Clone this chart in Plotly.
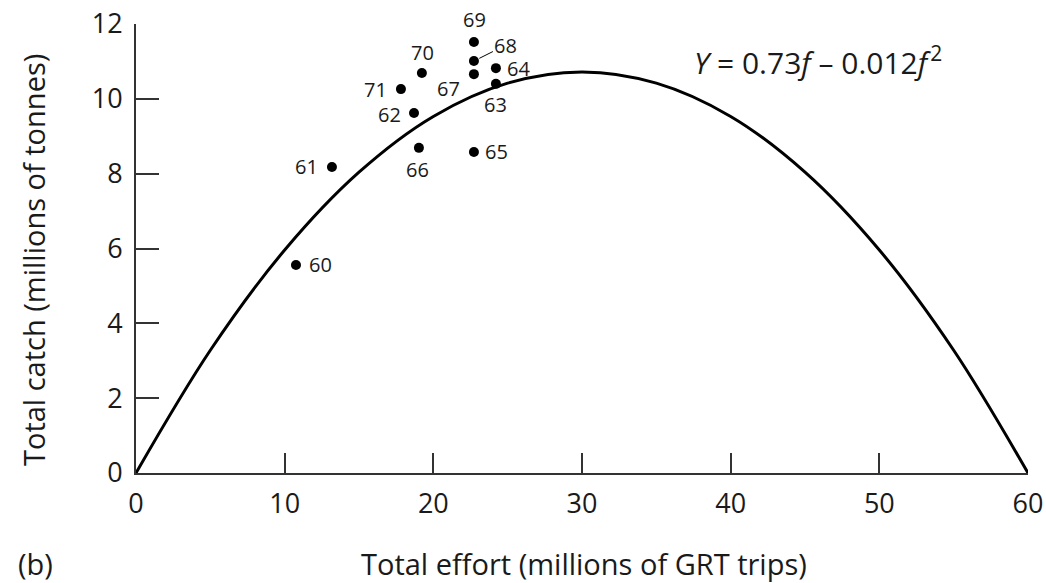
import plotly.graph_objects as go

# Observed data (year labels, effort, catch)
years = ["60", "61", "62", "63", "64", "65", "66", "67", "68", "69", "70", "71"]
effort = [10.76, 13.18, 18.70, 24.21, 24.21, 22.73, 19.03, 22.73, 22.73, 22.73, 19.23, 17.82]
catch = [5.56, 8.18, 9.62, 10.40, 10.82, 8.58, 8.69, 10.66, 11.01, 11.52, 10.69, 10.26]

# Fitted curve
curve_f = [0, 5, 10, 15, 20, 25, 30, 35, 40, 45, 50, 55, 60]
curve_y = [0, 3.28, 5.96, 8.04, 9.53, 10.42, 10.72, 10.42, 9.53, 8.04, 5.96, 3.28, 0]

x_ticks = [0, 10, 20, 30, 40, 50, 60]
y_ticks = [0, 2, 4, 6, 8, 10, 12]

FONT = "Open Sans"
TXT = "#1a1a1a"

W, H = 1046, 583
L, T = 136, 24
R = W - 1028
B = H - 473
PW, PH = W - L - R, H - T - B


def px(xv):
    return (xv - L) / PW


def py(yv):
    return (H - B - yv) / PH


# label offsets (pixels) per year: (xshift, yshift)
label_pos = {
    "60": (25, 0), "61": (-25, 0), "62": (-25, -1), "71": (-25, 0),
    "70": (1, 21), "66": (-1, -22), "69": (1, 22), "67": (-25, -14),
    "64": (23, 0), "63": (0, -21), "65": (23, 0),
}

fig = go.Figure()
fig.add_trace(go.Scatter(x=curve_f, y=curve_y, mode="lines",
                         line=dict(color="black", width=3, shape="spline"),
                         hoverinfo="skip", cliponaxis=False))
fig.add_trace(go.Scatter(x=effort, y=catch, mode="markers",
                         marker=dict(color="black", size=10)))

anns = []
for yr, xv, yv in zip(years, effort, catch):
    if yr == "68":
        anns.append(dict(x=xv, y=yv, xref="x", yref="y", text=yr, showarrow=True,
                         arrowhead=0, arrowwidth=1, arrowcolor="black", ax=32, ay=-16,
                         standoff=6, xanchor="center", yanchor="middle",
                         font=dict(family=FONT, size=20, color=TXT)))
        continue
    dx, dy = label_pos[yr]
    anns.append(dict(x=xv, y=yv, xref="x", yref="y", text=yr, showarrow=False,
                     xshift=dx, yshift=dy, xanchor="center", yanchor="middle",
                     font=dict(family=FONT, size=20, color=TXT)))

anns.append(dict(xref="paper", yref="paper", x=px(818), y=py(61),
                 text="<i>Y</i> = 0.73<i>f</i> – 0.012<i>f</i>\u200a<sup>2</sup>",
                 showarrow=False, xanchor="center", yanchor="middle",
                 font=dict(family=FONT, size=30, color=TXT)))
anns.append(dict(xref="paper", yref="paper", x=px(584), y=py(563),
                 text="Total effort (millions of GRT trips)", showarrow=False,
                 xanchor="center", yanchor="middle",
                 font=dict(family=FONT, size=29, color=TXT)))
anns.append(dict(xref="paper", yref="paper", x=px(35), y=py(563),
                 text="(b)", showarrow=False, xanchor="center", yanchor="middle",
                 font=dict(family=FONT, size=29, color=TXT)))
anns.append(dict(xref="paper", yref="paper", x=px(33), y=py(260),
                 text="Total catch (millions of tonnes)", showarrow=False, textangle=-90,
                 xanchor="center", yanchor="middle",
                 font=dict(family=FONT, size=29, color=TXT)))

fig.update_layout(
    width=W, height=H,
    margin=dict(l=L, r=R, t=T, b=B),
    paper_bgcolor="white", plot_bgcolor="white",
    showlegend=False,
    annotations=anns,
)
fig.update_xaxes(range=[0, 60], tickvals=x_ticks, ticks="inside", ticklen=20,
                 tickwidth=1.5, tickcolor="#333", showline=True, linecolor="#333",
                 linewidth=2, showgrid=False, zeroline=False, automargin=False,
                 ticklabelstandoff=6, ticklabeloverflow="allow",
                 tickfont=dict(family=FONT, size=27, color=TXT))
fig.update_yaxes(range=[0, 12], tickvals=y_ticks, ticks="inside", ticklen=23,
                 tickwidth=1.5, tickcolor="#333", showline=True, linecolor="#333",
                 linewidth=2, showgrid=False, zeroline=False, automargin=False,
                 ticklabelstandoff=6, ticklabeloverflow="allow",
                 tickfont=dict(family=FONT, size=27, color=TXT))

fig.write_html(
    "out.html",
    config={"displayModeBar": False},
    post_script="document.body.style.margin='0';document.body.style.overflow='hidden';",
)
